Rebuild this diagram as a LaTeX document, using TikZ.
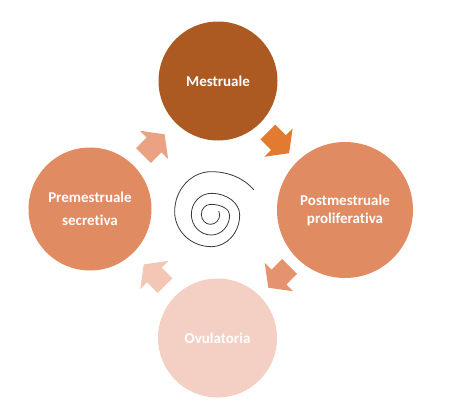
\documentclass[tikz,border=0pt]{standalone}
\usepackage{fontspec}
\setmainfont{Carlito}[Ligatures=NoCommon]
\definecolor{cTop}{HTML}{AD5A22}
\definecolor{cSide}{HTML}{E08B62}
\definecolor{cBot}{HTML}{F4CFC3}
\definecolor{aTR}{HTML}{E27B30}
\definecolor{aTL}{HTML}{EBA283}
\definecolor{aBR}{HTML}{E5926F}
\definecolor{aBL}{HTML}{F3C6B6}
\definecolor{spiralc}{HTML}{3A3A3A}
\begin{document}
\begin{tikzpicture}[x=1pt,y=-1pt,
  phase/.style={circle, minimum size=#1, inner sep=0pt, text=white,
    font=\bfseries\fontsize{15}{18}\selectfont, align=center},
  spiral/.style={draw=spiralc, line width=0.8pt}]
\useasboundingbox (0,0) rectangle (450,405);
\fill[white] (0,0) rectangle (450,405);

\node[phase=119pt, fill=cTop] (mes) at (218,81) {Mestruale};
\node[phase=136pt, fill=cSide] (post) at (345,210) {Postmestruale\\proliferativa};
\node[phase=119pt, fill=cBot] (ovu) at (217.5,338) {Ovulatoria};
\node[phase=123pt, fill=cSide] (pre) at (90,209) {Premestruale\\[5pt]secretiva};

% block arrows
\fill[aTR, shift={(278.5,142.6)}, rotate=-45]
  (-15,-10.5) -- (0,-10.5) -- (0,-20) -- (15,0) -- (0,20) -- (0,10.5) -- (-15,10.5) -- cycle;
\fill[aBR, shift={(278.9,277.1)}, rotate=225]
  (-15,-10.5) -- (0,-10.5) -- (0,-20) -- (15,0) -- (0,20) -- (0,10.5) -- (-15,10.5) -- cycle;
\fill[aBL, shift={(154.4,275)}, rotate=135]
  (-15,-10.5) -- (0,-10.5) -- (0,-20) -- (15,0) -- (0,20) -- (0,10.5) -- (-15,10.5) -- cycle;
\fill[aTL, shift={(154,144.9)}, rotate=45]
  (-15,-10.5) -- (0,-10.5) -- (0,-20) -- (15,0) -- (0,20) -- (0,10.5) -- (-15,10.5) -- cycle;

% spiral
\draw[spiral] (218.79,211.06)
  arc[start angle=-25,end angle=0,radius=9.33]
  arc[start angle=0,end angle=90,x radius=9.33,y radius=9.33]
  arc[start angle=90,end angle=180,x radius=9,y radius=10]
  arc[start angle=180,end angle=270,x radius=9.33,y radius=10]
  arc[start angle=270,end angle=360,x radius=19,y radius=10.67]
  arc[start angle=0,end angle=90,x radius=18.33,y radius=20]
  arc[start angle=90,end angle=180,x radius=20,y radius=20.67]
  arc[start angle=180,end angle=270,x radius=20,y radius=21]
  arc[start angle=270,end angle=360,x radius=28.33,y radius=21.67]
  arc[start angle=0,end angle=90,x radius=28.33,y radius=31.67]
  arc[start angle=90,end angle=180,x radius=36.67,y radius=35]
  arc[start angle=180,end angle=270,x radius=36.67,y radius=40]
  arc[start angle=270,end angle=327,x radius=50.7,y radius=40];
\end{tikzpicture}
\end{document}
